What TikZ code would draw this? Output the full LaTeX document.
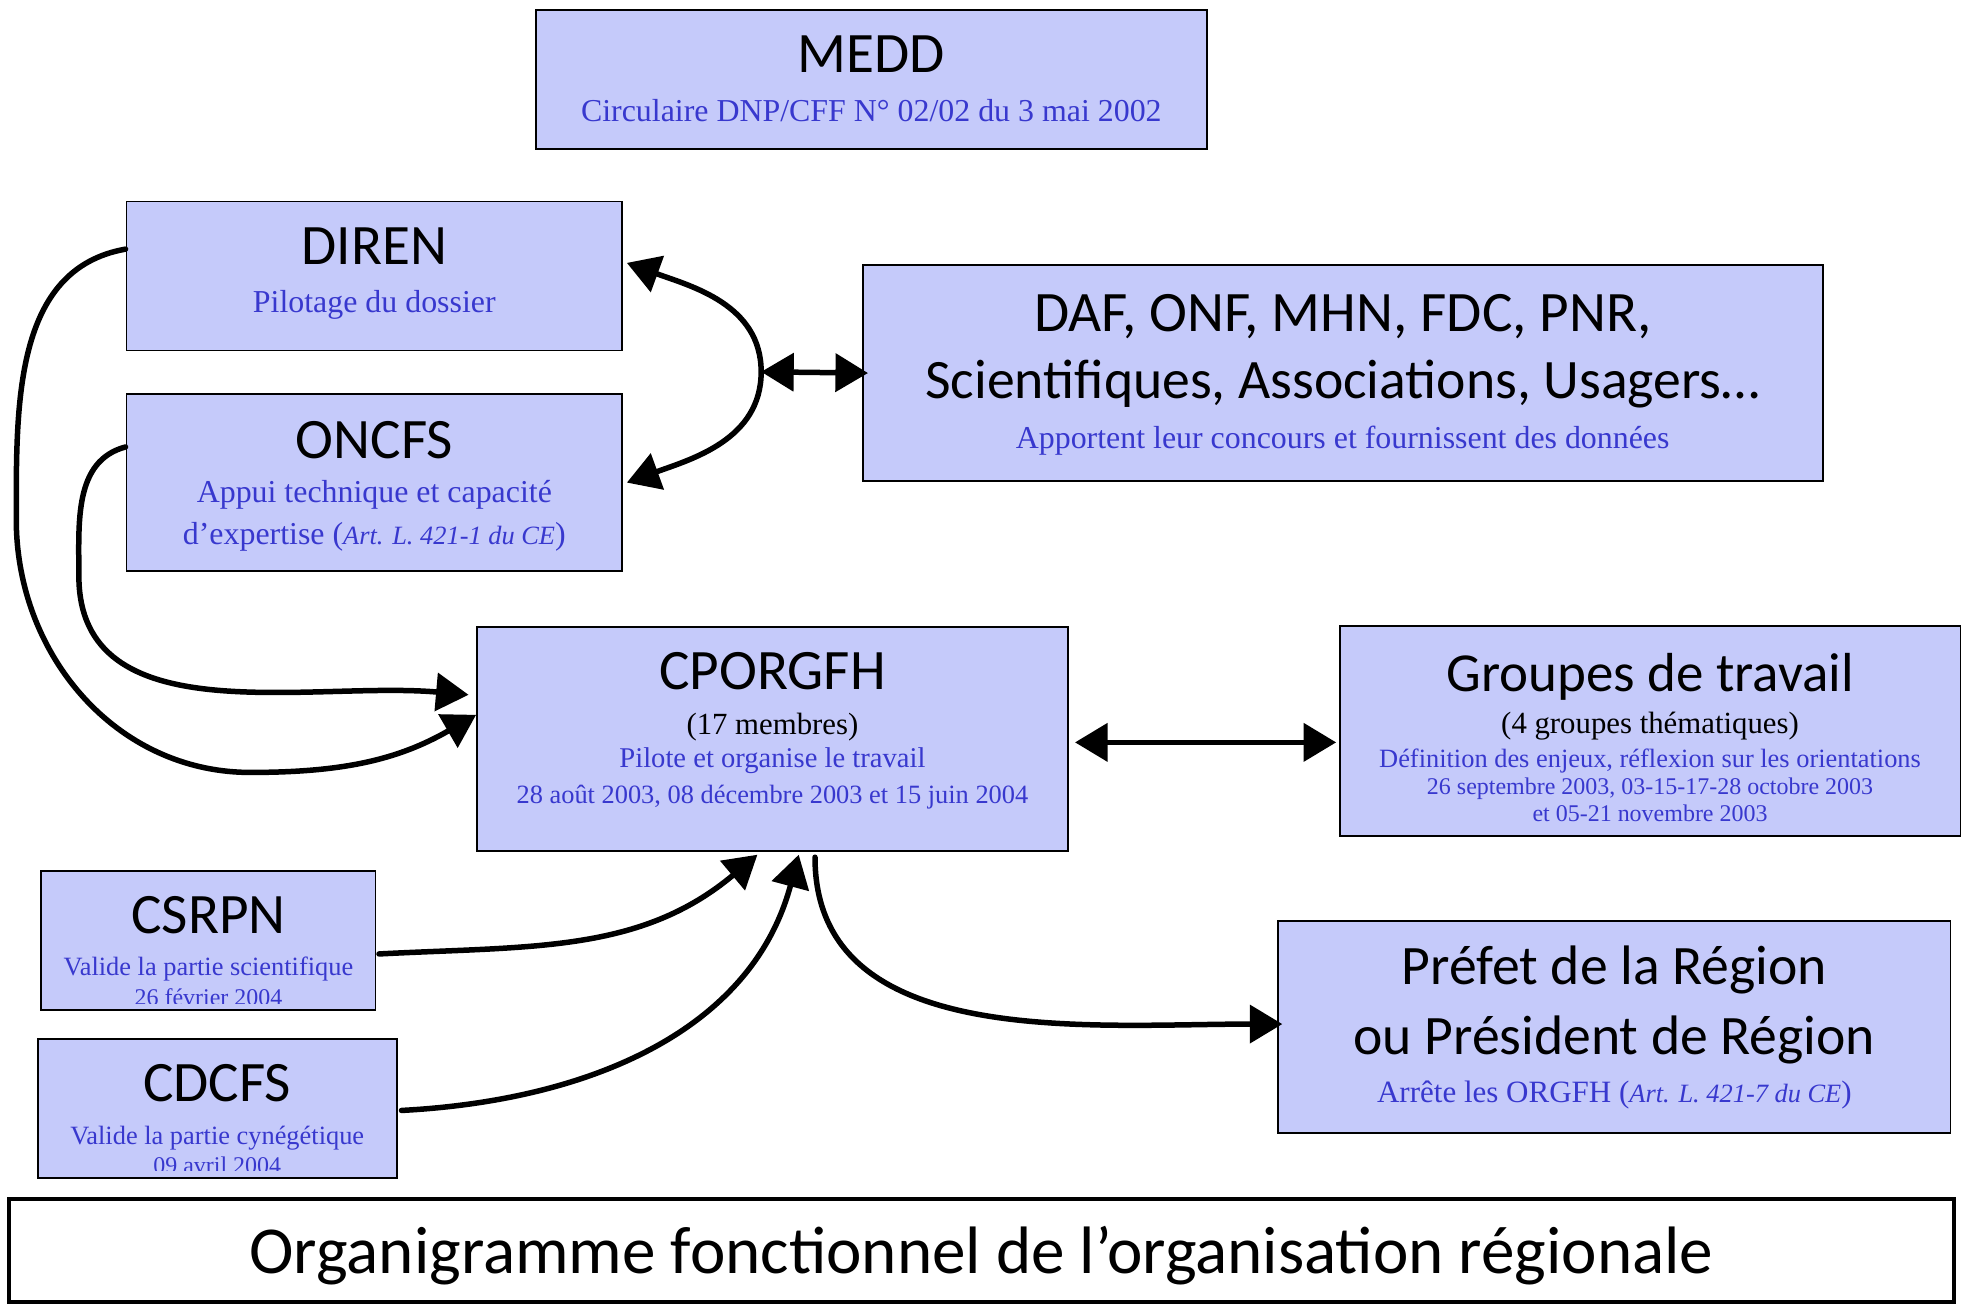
\documentclass[tikz,border=0pt]{standalone}
\usepackage{fontspec}
\setmainfont{Liberation Serif}
\newfontfamily\handfont{Carlito}
\usepackage{tikz}
\usetikzlibrary{arrows.meta}
\usetikzlibrary{calc}
\usepackage{xcolor}
\definecolor{boxfill}{RGB}{197,202,250}
\definecolor{subblue}{RGB}{56,56,206}

\begin{document}
\begin{tikzpicture}[x=.02cm,y=.02cm,
	box/.style={draw, line width=.85pt, fill=boxfill, inner sep=0pt},
	head/.style={anchor=base, inner sep=0pt, font=\handfont\fontsize{26}{30}\selectfont},
	sub/.style={anchor=base, inner sep=0pt, text=subblue, font=\fontsize{14.5}{17}\selectfont},
	subm/.style={sub, font=\fontsize{13}{15}\selectfont},
	subs/.style={sub, font=\fontsize{12}{14}\selectfont},
	subxs/.style={sub, font=\fontsize{10.9}{13}\selectfont},
	note/.style={anchor=base, inner sep=0pt, font=\fontsize{14}{16}\selectfont},
	link/.style={line width=2.5pt, line cap=round, -{Triangle[length=.52cm,width=.6cm]}},
	links/.style={line width=2.5pt, {Triangle[length=.52cm,width=.6cm]}-{Triangle[length=.52cm,width=.6cm]}}]
	\useasboundingbox (0,0) rectangle (1568,1042);
		\node[box, minimum width=10.72cm, minimum height=2.22cm] (medd) at (696,978.5) {};
		\node[box, minimum width=7.92cm, minimum height=2.38cm] (diren) at (299,821.5) {};
		\node[box, minimum width=7.92cm, minimum height=2.82cm] (oncfs) at (299,656.5) {};
		\node[box, minimum width=15.34cm, minimum height=3.44cm] (daf) at (1072.5,744) {};
		\node[box, minimum width=9.44cm, minimum height=3.58cm] (cporgfh) at (617,451.5) {};
		\node[box, minimum width=9.92cm, minimum height=3.36cm] (groupes) at (1318,458) {};
		\node[box, minimum width=5.34cm, minimum height=2.22cm] (csrpn) at (166.5,290.5) {};
		\node[box, minimum width=5.74cm, minimum height=2.22cm] (cdcfs) at (173.5,156.5) {};
		\node[box, minimum width=10.74cm, minimum height=3.38cm] (prefet) at (1289.5,221.5) {};
		\node[draw, line width=1.7pt, fill=white, minimum width=31.08cm, minimum height=1.64cm] (titre) at (784,43) {};

		\node[head] (medd-t) at (696,984) {MEDD};
		\node[sub] (medd-s) at (696,945) {Circulaire DNP/CFF N° 02/02 du 3 mai 2002};
		\node[head] (diren-t) at (299,831) {DIREN};
		\node[sub] (diren-s) at (299,792) {Pilotage du dossier};
		\node[head] (oncfs-t) at (299,676) {ONCFS};
		\node[sub] (oncfs-s) at (299,641) {Appui technique et capacité};
		\node[sub] (oncfs-r) at (299,607) {d’expertise ({\fontsize{12}{14}\selectfont\itshape Art. L. 421-1 du CE})};
		\node[head] (daf-t) at (1072.5,777) {DAF, ONF, MHN, FDC, PNR,};
		\node[head, font=\handfont\fontsize{25.3}{30}\selectfont] (daf-u) at (1072.5,724) {Scientifiques, Associations, Usagers…};
		\node[sub] (daf-s) at (1072.5,684) {Apportent leur concours et fournissent des données};
		\node[head] (cporgfh-t) at (617,491) {CPORGFH};
		\node[note] (cporgfh-n) at (617,455) {(17 membres)};
		\node[subm] (cporgfh-s) at (617,429) {Pilote et organise le travail};
		\node[subs] (cporgfh-d) at (617,400) {28 août 2003, 08 décembre 2003 et 15 juin 2004};
		\node[head, font=\handfont\fontsize{25}{30}\selectfont] (groupes-t) at (1318,490) {Groupes de travail};
		\node[note] (groupes-n) at (1318,456) {(4 groupes thématiques)};
		\node[subs] (groupes-s) at (1318,429) {Définition des enjeux, réflexion sur les orientations};
		\node[subxs] (groupes-d) at (1318,407) {26 septembre 2003, 03-15-17-28 octobre 2003};
		\node[subxs] (groupes-e) at (1318,386) {et 05-21 novembre 2003};
		\node[head] (csrpn-t) at (166.5,296) {CSRPN};
		\node[subs] (csrpn-s) at (166.5,263) {Valide la partie scientifique};
		\node[head] (cdcfs-t) at (173.5,162) {CDCFS};
		\node[subs] (cdcfs-s) at (173.5,128) {Valide la partie cynégétique};
		\node[head, font=\handfont\fontsize{25.3}{30}\selectfont] (prefet-t) at (1289.5,256) {Préfet de la Région};
		\node[head, font=\handfont\fontsize{25.3}{30}\selectfont] (prefet-u) at (1289.5,200) {ou Président de Région};
		\node[sub, font=\fontsize{14.1}{17}\selectfont] (prefet-s) at (1289.5,161) {Arrête les ORGFH ({\fontsize{12}{14}\selectfont\itshape Art. L. 421-7 du CE})};
		\node[head, font=\handfont\fontsize{30.5}{34}\selectfont] (titre-t) at (784,25) {Organigramme fonctionnel de l’organisation régionale};

	\begin{scope}
		\clip ($(csrpn.south west)+(0,6)$) rectangle (csrpn.north east);
		\node[subxs] (csrpn-d) at (166.5,238.5) {26 février 2004};
	\end{scope}
	\begin{scope}
		\clip ($(cdcfs.south west)+(0,6.5)$) rectangle (cdcfs.north east);
		\node[subxs] (cdcfs-d) at (173.5,105) {09 avril 2004};
	\end{scope}

		\coordinate (dl) at (13,627);
		\coordinate (db) at (200,425);
		\coordinate (ol) at (63,582);
		\coordinate (jonction) at (608,745);
		\draw[link] ($(diren.west)+(0,21.5)$) to[out=190,in=90] (dl) to[out=-90,in=180] (db) to[out=0,in=210] ($(cporgfh.west)+(0,19.5)$);
		\draw[link] ($(oncfs.west)+(0,28.5)$) to[out=195,in=90] (ol) to[out=-90,in=175] ($(cporgfh.west)+(-6,35.5)$);
		\draw[links] ($(diren.east)+(3,10.5)$) to[out=-20,in=90] (jonction) to[out=-90,in=20] ($(oncfs.east)+(3,0)$);
		\draw[links] (jonction) -- ($(daf.west)+(5,0)$);
		\draw[links] ($(cporgfh.east)+(5,-2.5)$) -- ($(cporgfh.east -| groupes.west)+(-2,-2.5)$);
		\draw[link] ($(csrpn.east)+(2,-10.5)$) to[out=3,in=220] ($(cporgfh.south)+(-12,-2)$);
		\draw[link] ($(cdcfs.east)+(3,-1.5)$) to[out=3,in=255] ($(cporgfh.south)+(21,-2)$);
		\draw[link] ($(cporgfh.south)+(34,-4)$) to[out=-90,in=180] ($(prefet.west)+(4,2.5)$);
\end{tikzpicture}
\end{document}
